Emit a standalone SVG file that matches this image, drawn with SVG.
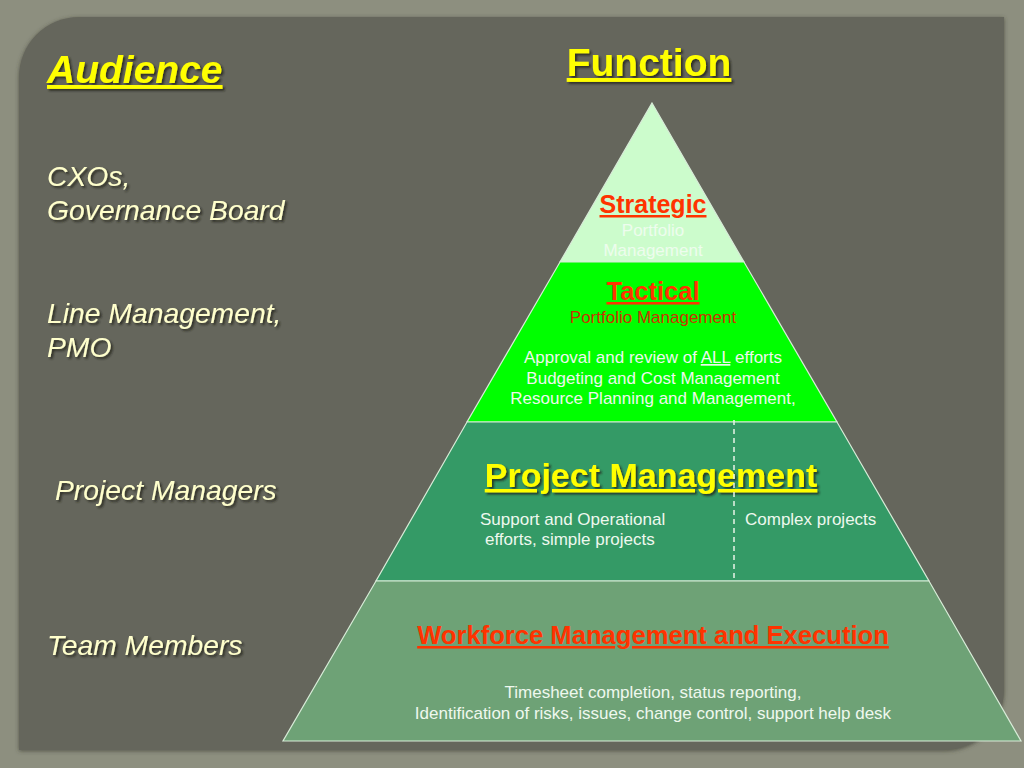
<svg xmlns="http://www.w3.org/2000/svg" width="1024" height="768" viewBox="0 0 1024 768">
<defs>
<filter id="sh" x="-10%" y="-20%" width="130%" height="160%">
<feDropShadow dx="2" dy="2" stdDeviation="1.2" flood-color="#202018" flood-opacity="0.8"/>
</filter>
<filter id="psh" x="-5%" y="-5%" width="110%" height="110%">
<feDropShadow dx="0" dy="1" stdDeviation="2" flood-color="#3a3b33" flood-opacity="0.7"/>
</filter>
<style>
.aud{font-family:"Liberation Sans",Arial,sans-serif;font-style:italic;font-size:28.3px;fill:#ffffcc}
.ttl{font-family:"Liberation Sans",Arial,sans-serif;font-weight:bold;fill:#ffff00;text-decoration:underline}
.red{font-family:"Liberation Sans",Arial,sans-serif;font-weight:bold;fill:#ff3300;text-decoration:underline}
.body{font-family:"Liberation Sans",Arial,sans-serif;font-size:17px;fill:#eef8ee}
.tier{stroke:#d8ecd8;stroke-width:1.2}
</style>
</defs>
<rect width="1024" height="768" fill="#8d8f7f"/>
<path d="M79 17 H1004 V690 A60 60 0 0 1 944 750 H19 V77 A60 60 0 0 1 79 17 Z" fill="#65665b" filter="url(#psh)"/>

<text x="47" y="83" class="ttl" style="font-style:italic;font-size:39px" filter="url(#sh)">Audience</text>
<text x="649" y="76" class="ttl" style="font-size:39px" text-anchor="middle" filter="url(#sh)">Function</text>

<g id="audience-cxo" filter="url(#sh)"><text x="47" y="186" class="aud">CXOs,</text><text x="47" y="220" class="aud">Governance Board</text></g>
<g id="audience-line" filter="url(#sh)"><text x="47" y="323" class="aud">Line Management,</text><text x="47" y="357" class="aud">PMO</text></g>
<g id="audience-pm" filter="url(#sh)"><text x="55" y="500" class="aud">Project Managers</text></g>
<g id="audience-team" filter="url(#sh)"><text x="47" y="655" class="aud">Team Members</text></g>

<g id="tier-strategic">
<polygon class="tier" points="652,103 744,262 560,262" fill="#ccfccc"/>
<text x="653" y="213" class="red" style="font-size:25px" text-anchor="middle">Strategic</text>
<text x="653" y="236" class="body" style="fill:#eefcee" text-anchor="middle">Portfolio</text>
<text x="653" y="256" class="body" style="fill:#eefcee" text-anchor="middle">Management</text>
</g>
<g id="tier-tactical">
<polygon class="tier" points="560,262 744,262 837,422 467,422" fill="#00ff00"/>
<text x="653" y="300" class="red" style="font-size:25.5px" text-anchor="middle">Tactical</text>
<text x="653" y="323" class="body" style="fill:#cc3300" text-anchor="middle">Portfolio Management</text>
<text x="653" y="363" class="body" text-anchor="middle">Approval and review of <tspan text-decoration="underline">ALL</tspan> efforts</text>
<text x="653" y="384" class="body" text-anchor="middle">Budgeting and Cost Management</text>
<text x="653" y="404" class="body" text-anchor="middle">Resource Planning and Management,</text>
</g>
<g id="tier-project">
<polygon class="tier" points="467,422 837,422 929,581 376,581" fill="#349a66"/>
<text x="651" y="487" class="ttl" style="font-size:34px" text-anchor="middle" filter="url(#sh)">Project Management</text>
<text x="480" y="525" class="body">Support and Operational</text>
<text x="485" y="545" class="body">efforts, simple projects</text>
<text x="745" y="525" class="body">Complex projects</text>
</g>
<g id="tier-workforce">
<polygon class="tier" points="376,581 929,581 1021,741 283,741" fill="#6ea276"/>
<text x="653" y="644" class="red" style="font-size:25.6px" text-anchor="middle">Workforce Management and Execution</text>
<text x="653" y="698" class="body" text-anchor="middle">Timesheet completion, status reporting,</text>
<text x="653" y="719" class="body" text-anchor="middle">Identification of risks, issues, change control, support help desk</text>
</g>
<g id="connectors">
<line x1="734" y1="420" x2="734" y2="580" stroke="#e8f4e8" stroke-width="1.5" stroke-dasharray="5,4"/>
</g>
</svg>
